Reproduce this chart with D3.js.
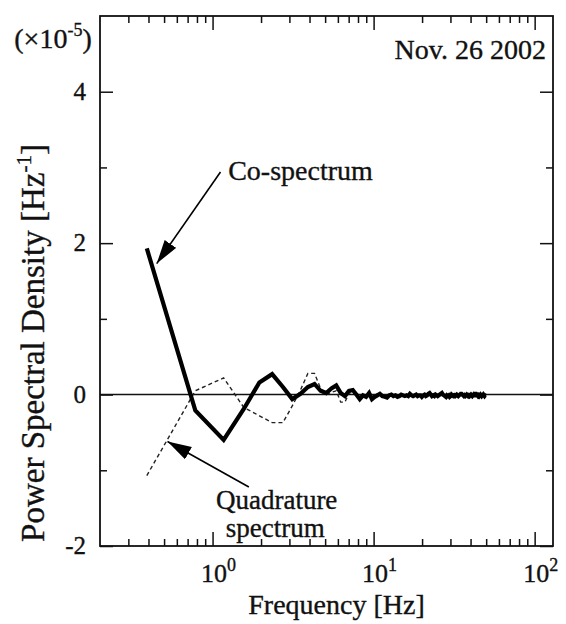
<!DOCTYPE html>
<html>
<head>
<meta charset="utf-8">
<script src="https://cdn.jsdelivr.net/npm/d3@7"></script>
<style>
    body { margin: 0; background: #fff; }
    text { font-family: "Liberation Serif", "Times New Roman", serif; fill: #111; stroke: #111; stroke-width: 0.35; }
    .tick line { stroke: #111; stroke-width: 1.5; }
</style>
</head>
<body>
<div id="chart"></div>
<script>
// spectra are sampled every df Hz, first bin at df
var df = 0.390625;

// Co-spectrum (x1e-5 Hz^-1)
var coSpectrum = [
    1.93, -0.21, -0.60, -0.19, 0.16, 0.27, 0.10, -0.06, 0.01, 0.10,
    0.14, 0.05, 0.02, 0.08, 0.12, 0.02, -0.02, 0.05, 0.06, 0.00,
    -0.06, -0.01, -0.03, 0.02, -0.06, -0.03, -0.01, 0.01, -0.02, -0.03,
    -0.04, -0.01, 0.00, -0.02, -0.01, -0.03, -0.02, 0.00, -0.01, -0.02,
    -0.01, -0.02, 0.01, -0.01, -0.02, -0.01, 0.00, -0.02, -0.01, -0.01,
    -0.03, -0.01, 0.00, -0.02, -0.01, 0.01, 0.02, 0.00, -0.02, -0.01,
    -0.02, 0.00, -0.01, -0.02, -0.01, 0.00, 0.01, 0.02, 0.00, -0.01,
    -0.02, -0.03, -0.01, -0.02, -0.01, -0.03, -0.02, 0.00, -0.01, -0.02,
    -0.01, -0.02, -0.01, 0.00, -0.01, -0.02, -0.01, 0.00, 0.01, 0.01,
    0.00, -0.01, -0.02, -0.01, -0.02, -0.01, 0.00, -0.01, -0.02, -0.01,
    -0.02, -0.01, 0.00, -0.01, -0.02, -0.01, 0.00, -0.01, -0.01, 0.01,
    0.01, 0.00, -0.01, -0.02, -0.01, -0.02, -0.01, 0.00, -0.01, -0.02,
    -0.01, -0.01, 0.00, -0.01, -0.02, -0.01, -0.01, -0.01
];

// Quadrature spectrum (x1e-5 Hz^-1)
var quadSpectrum = [
    -1.07, 0.05, 0.22, -0.17, -0.28, -0.37, -0.37, -0.15, 0.06, 0.28,
    0.28, 0.08, 0.00, 0.03, 0.05, -0.10, -0.10, 0.02, 0.03, -0.01,
    -0.03, 0.01, -0.02, 0.00, -0.03, -0.01, 0.01, 0.00, -0.02, -0.01,
    -0.02, 0.00, -0.01, -0.02, 0.00, -0.01, -0.02, -0.01, 0.00, -0.01,
    -0.02, -0.01, 0.00, -0.01, -0.01, -0.02, 0.00, -0.01, -0.01, 0.00,
    -0.02, -0.01, 0.00, -0.01, -0.02, 0.00, 0.01, -0.01, -0.01, 0.00,
    -0.01, -0.02, -0.01, 0.00, -0.01, -0.01, 0.00, 0.01, -0.01, -0.02,
    -0.01, -0.01, 0.00, -0.01, -0.02, -0.01, 0.00, -0.01, -0.01, -0.02,
    -0.01, 0.00, -0.01, -0.01, 0.00, -0.01, -0.02, -0.01, 0.00, 0.00,
    -0.01, -0.01, -0.02, -0.01, 0.00, -0.01, -0.01, -0.02, -0.01, 0.00,
    -0.01, -0.01, 0.00, -0.01, -0.02, -0.01, -0.01, 0.00, -0.01, 0.00,
    0.00, -0.01, -0.01, -0.02, -0.01, -0.01, 0.00, -0.01, -0.01, -0.01,
    -0.01, 0.00, -0.01, -0.01, -0.02, -0.01, -0.01, -0.01
];

var xMajorTicks = [1, 10, 100];
var xTickExponents = ['0', '1', '2'];
var yMajorTicks = [-2, 0, 2, 4];
var yMinorTicks = [-1, 1, 3];

function main(domSelector) {
    var width = 566;
    var height = 624;
    var margin = {top: 16, right: 13, bottom: 78, left: 100};

    var svg = d3.select(domSelector).append('svg')
        .attr('width', width)
        .attr('height', height);

    var xScale = d3.scaleLog().domain([0.2, 130]).range([margin.left, width - margin.right]);
    var yScale = d3.scaleLinear().domain([-2, 5]).range([height - margin.bottom, margin.top]);

    var x0 = xScale.range()[0], x1 = xScale.range()[1];
    var y0 = yScale.range()[0], y1 = yScale.range()[1];

    // minor log ticks 2..9 in each decade
    var xMinorTicks = [];
    [0.1, 1, 10].forEach(function (b) {
        for (var m = 2; m <= 9; m++) {
            var v = +(m * b).toPrecision(3);
            if (v > 0.2 && v < 130) xMinorTicks.push(v);
        }
    });

    function ticks(axis, values, size) {
        return function (g) {
            g.call(axis.tickValues(values).tickSize(size).tickFormat(''));
            g.select('.domain').remove();
        };
    }

    var frame = svg.append('g');
    frame.append('g').attr('transform', 'translate(' + x0 + ',0)')
        .call(ticks(d3.axisLeft(yScale), yMajorTicks, -13));
    frame.append('g').attr('transform', 'translate(' + x0 + ',0)')
        .call(ticks(d3.axisLeft(yScale), yMinorTicks, -7));
    frame.append('g').attr('transform', 'translate(' + x1 + ',0)')
        .call(ticks(d3.axisRight(yScale), yMajorTicks, -13));
    frame.append('g').attr('transform', 'translate(' + x1 + ',0)')
        .call(ticks(d3.axisRight(yScale), yMinorTicks, -7));
    frame.append('g').attr('transform', 'translate(0,' + y0 + ')')
        .call(ticks(d3.axisBottom(xScale), xMajorTicks, -14));
    frame.append('g').attr('transform', 'translate(0,' + y0 + ')')
        .call(ticks(d3.axisBottom(xScale), xMinorTicks, -7));
    frame.append('g').attr('transform', 'translate(0,' + y1 + ')')
        .call(ticks(d3.axisTop(xScale), xMajorTicks, -14));
    frame.append('g').attr('transform', 'translate(0,' + y1 + ')')
        .call(ticks(d3.axisTop(xScale), xMinorTicks, -7));

    svg.append('rect')
        .attr('x', x0).attr('y', y1)
        .attr('width', x1 - x0).attr('height', y0 - y1)
        .attr('fill', 'none').attr('stroke', '#111').attr('stroke-width', 1.8);

    // y tick labels
    svg.selectAll('text.ylab')
        .data(yMajorTicks)
        .enter().append('text')
        .attr('class', 'ylab')
        .attr('x', x0 - 14)
        .attr('y', function (d) { return yScale(d) + 8; })
        .attr('text-anchor', 'end')
        .style('font-size', '25px')
        .text(function (d) { return d; });

    // x tick labels 10^n
    var xl = svg.selectAll('text.xlab')
        .data(xMajorTicks)
        .enter().append('text')
        .attr('class', 'xlab')
        .attr('x', function (d) { return xScale(d) + 6; })
        .attr('y', y0 + 36)
        .attr('text-anchor', 'middle')
        .style('font-size', '26px');
    xl.append('tspan').text('10');
    xl.append('tspan').attr('dy', -11).style('font-size', '18px')
        .text(function (d, i) { return xTickExponents[i]; });

    // zero line
    svg.append('line')
        .attr('x1', x0).attr('x2', x1)
        .attr('y1', yScale(0)).attr('y2', yScale(0))
        .attr('stroke', '#111').attr('stroke-width', 1.5);

    var line = d3.line()
        .x(function (d, i) { return xScale((i + 1) * df); })
        .y(function (d) { return yScale(d); });

    svg.append('path')
        .attr('d', line(quadSpectrum))
        .attr('fill', 'none')
        .attr('stroke', '#222')
        .attr('stroke-width', 1.4)
        .attr('stroke-dasharray', '4,3');

    svg.append('path')
        .attr('d', line(coSpectrum))
        .attr('fill', 'none')
        .attr('stroke', '#000')
        .attr('stroke-width', 4.2)
        .attr('stroke-linejoin', 'miter');

    // arrows
    svg.append('defs').append('marker')
        .attr('id', 'head')
        .attr('markerUnits', 'userSpaceOnUse')
        .attr('markerWidth', 26).attr('markerHeight', 16)
        .attr('refX', 24).attr('refY', 7)
        .attr('orient', 'auto')
        .append('path')
        .attr('d', 'M0,0 L24,7 L0,14 Z')
        .attr('fill', '#000');

    var arrows = [
        {from: [1.12, 2.94], to: [0.45, 1.73]},
        {from: [1.68, -1.22], to: [0.525, -0.62]}
    ];
    svg.selectAll('line.arrow')
        .data(arrows)
        .enter().append('line')
        .attr('class', 'arrow')
        .attr('x1', function (d) { return xScale(d.from[0]); })
        .attr('y1', function (d) { return yScale(d.from[1]); })
        .attr('x2', function (d) { return xScale(d.to[0]); })
        .attr('y2', function (d) { return yScale(d.to[1]); })
        .attr('stroke', '#000')
        .attr('stroke-width', 1.6)
        .attr('marker-end', 'url(#head)');

    // annotations
    svg.append('text')
        .attr('x', xScale(1.25)).attr('y', yScale(2.83))
        .style('font-size', '28px')
        .text('Co-spectrum');
    svg.append('text')
        .attr('x', xScale(2.5)).attr('y', yScale(-1.51))
        .attr('text-anchor', 'middle')
        .style('font-size', '27px')
        .text('Quadrature');
    svg.append('text')
        .attr('x', xScale(2.45)).attr('y', yScale(-1.88))
        .attr('text-anchor', 'middle')
        .style('font-size', '27px')
        .text('spectrum');

    svg.append('text')
        .attr('x', x1 - 7).attr('y', y1 + 43)
        .attr('text-anchor', 'end')
        .style('font-size', '28px')
        .text('Nov. 26 2002');

    var mult = svg.append('text')
        .attr('x', 53).attr('y', y1 + 32)
        .attr('text-anchor', 'middle')
        .style('font-size', '28px');
    mult.append('tspan').text('(\u00d710');
    mult.append('tspan').attr('dy', -12).style('font-size', '18px').text('-5');
    mult.append('tspan').attr('dy', 12).text(')');

    svg.append('text')
        .attr('x', (x0 + x1) / 2 + 10).attr('y', height - 10)
        .attr('text-anchor', 'middle')
        .style('font-size', '28px')
        .text('Frequency [Hz]');

    var ylab = svg.append('text')
        .attr('transform', 'translate(44,' + ((y0 + y1) / 2 + 62) + ') rotate(-90)')
        .attr('text-anchor', 'middle')
        .style('font-size', '33px');
    ylab.append('tspan').text('Power Spectral Density [Hz');
    ylab.append('tspan').attr('dy', -13).style('font-size', '21px').text('-1');
    ylab.append('tspan').attr('dy', 13).text(']');
}

main('#chart');
</script>
</body>
</html>
